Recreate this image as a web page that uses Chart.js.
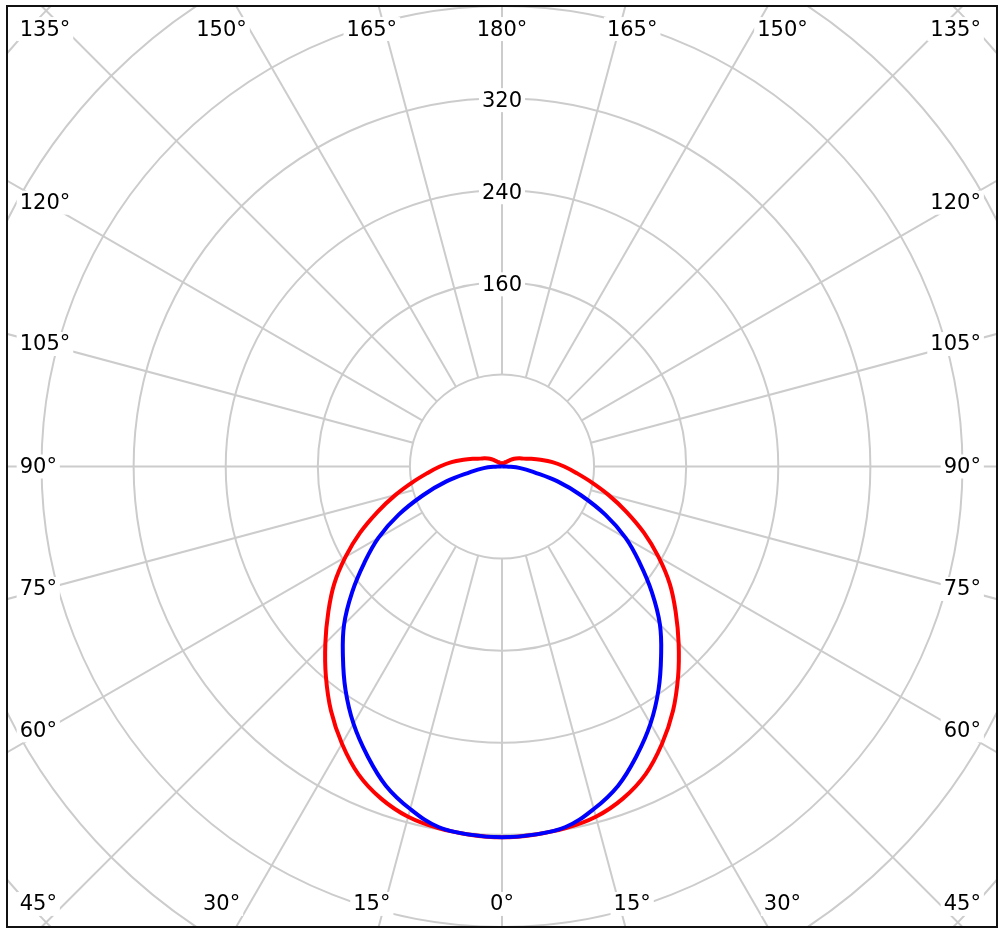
<!DOCTYPE html>
<html>
<head>
<meta charset="utf-8">
<title>配光曲线</title>
<script src="https://cdn.jsdelivr.net/npm/chart.js@4/dist/chart.umd.min.js"></script>
<style>
    html, body { margin: 0; padding: 0; background: #fff; }
    #polar { display: block; }
</style>
</head>
<body>
<canvas id="polar" width="1000" height="933"></canvas>
<script>
// 角度 (0° 朝下, 180° 朝上), 左右对称
const angles = [0, 5, 10, 15, 20, 25, 30, 35, 40, 45, 50, 55, 60, 65, 70, 75, 80, 85, 90,
    95, 100, 105, 110, 115, 120, 125, 130, 135, 140, 145, 150, 155, 160, 165, 170, 175, 180];

// C0-C180 平面 (红)
const redValues = [322, 321, 319, 315, 307, 295, 278, 259, 238, 217, 197, 178, 157, 136, 115, 96, 79, 65, 54,
    44, 34, 26, 20, 17, 14, 11, 8, 6, 5, 4, 4, 3, 3, 3, 3, 3, 3];

// C90-C270 平面 (蓝)
const blueValues = [322, 321, 318, 308, 295, 277, 258, 237, 215, 194, 170, 146, 124, 99, 73, 50, 28, 16, 4,
    1, 0, 0, 0, 0, 0, 0, 0, 0, 0, 0, 0, 0, 0, 0, 0, 0, 0];

// 同心圆和射线
const ringValues = [80, 160, 240, 320, 400, 480, 560];
const ringLabels = [160, 240, 320];
const spokeAngles = [0, 15, 30, 45, 60, 75, 90, 105, 120, 135, 150, 165, 180];

// 极坐标转成 x/y 点: 先左半边 180→0, 再右半边 0→180
function toPoints(values) {
    const pts = [];
    for (let i = angles.length - 1; i >= 0; i--) {
        const a = angles[i] * Math.PI / 180;
        pts.push({ x: -values[i] * Math.sin(a), y: -values[i] * Math.cos(a) });
    }
    for (let i = 1; i < angles.length; i++) {
        const a = angles[i] * Math.PI / 180;
        pts.push({ x: values[i] * Math.sin(a), y: -values[i] * Math.cos(a) });
    }
    return pts;
}

// 带白底的文字
function boxText(ctx, text, x, y, align) {
    const w = ctx.measureText(text).width;
    let left = x - w / 2;
    if (align === 'left') left = x;
    if (align === 'right') left = x - w;
    ctx.fillStyle = '#ffffff';
    ctx.fillRect(left - 3, y - 12, w + 6, 24);
    ctx.fillStyle = '#000000';
    ctx.textAlign = 'left';
    ctx.fillText(text, left, y + 1);
}

// 画网格、刻度和边框
const polarGrid = {
    id: 'polarGrid',
    beforeDatasetsDraw(chart) {
        const { ctx, chartArea: area, scales: { x, y } } = chart;
        const cx = x.getPixelForValue(0);
        const cy = y.getPixelForValue(0);
        const k = (x.getPixelForValue(100) - cx) / 100;

        ctx.save();
        ctx.beginPath();
        ctx.rect(area.left, area.top, area.right - area.left, area.bottom - area.top);
        ctx.clip();
        ctx.strokeStyle = '#cccccc';
        ctx.lineWidth = 2;

        ringValues.forEach(r => {
            ctx.beginPath();
            ctx.arc(cx, cy, r * k, 0, Math.PI * 2);
            ctx.stroke();
        });

        spokeAngles.forEach(a => {
            const t = a * Math.PI / 180;
            [-1, 1].forEach(s => {
                const dx = s * Math.sin(t), dy = Math.cos(t);
                ctx.beginPath();
                ctx.moveTo(cx + dx * ringValues[0] * k, cy + dy * ringValues[0] * k);
                ctx.lineTo(cx + dx * 1000 * k, cy + dy * 1000 * k);
                ctx.stroke();
            });
        });

        ctx.font = '21px "DejaVu Sans", Verdana, sans-serif';
        ctx.textBaseline = 'middle';

        ringLabels.forEach(r => {
            boxText(ctx, String(r), cx, cy - r * k + 2, 'center');
        });

        spokeAngles.forEach(a => {
            const t = a * Math.PI / 180;
            const sides = (a === 0 || a === 180) ? [-1] : [-1, 1];
            sides.forEach(s => {
                let px, py, align;
                if (a < 45) {
                    py = cy + 380 * k;
                    px = cx + s * 422 * k * Math.tan(t);
                    align = 'center';
                } else if (a > 135) {
                    py = cy - 380 * k;
                    px = cx + s * 422 * k * Math.tan(Math.PI - t);
                    align = 'center';
                } else {
                    py = cy + 397 * k / Math.tan(t);
                    if (a === 90) py = cy;
                    py = Math.max(cy - 380 * k, Math.min(cy + 380 * k, py));
                    px = s < 0 ? cx - 419 * k : cx + 416 * k;
                    align = s < 0 ? 'left' : 'right';
                }
                boxText(ctx, a + '°', px, py, align);
            });
        });
        ctx.restore();
    },
    afterDraw(chart) {
        const { ctx, chartArea: area } = chart;
        ctx.save();
        ctx.strokeStyle = '#111111';
        ctx.lineWidth = 2;
        ctx.strokeRect(area.left, area.top, area.right - area.left, area.bottom - area.top);
        ctx.restore();
    }
};

const chart = new Chart(document.getElementById('polar'), {
    type: 'scatter',
    data: {
        datasets: [{
            label: 'C90-C270',
            data: toPoints(blueValues),
            showLine: true,
            borderColor: 'rgb(0, 0, 255)',
            borderWidth: 4,
            tension: 0.4,
            pointRadius: 0,
            fill: false
        }, {
            label: 'C0-C180',
            data: toPoints(redValues),
            showLine: true,
            borderColor: 'rgb(255, 0, 0)',
            borderWidth: 4,
            tension: 0.4,
            pointRadius: 0,
            fill: false
        }]
    },
    options: {
        responsive: false,
        animation: false,
        layout: { padding: { left: 7, right: 3, top: 6, bottom: 6 } },
        plugins: { legend: { display: false }, tooltip: { enabled: false } },
        scales: {
            x: { type: 'linear', min: -430, max: 430, display: false },
            y: { type: 'linear', min: -400, max: 400, display: false }
        }
    },
    plugins: [polarGrid]
});
</script>
</body>
</html>
